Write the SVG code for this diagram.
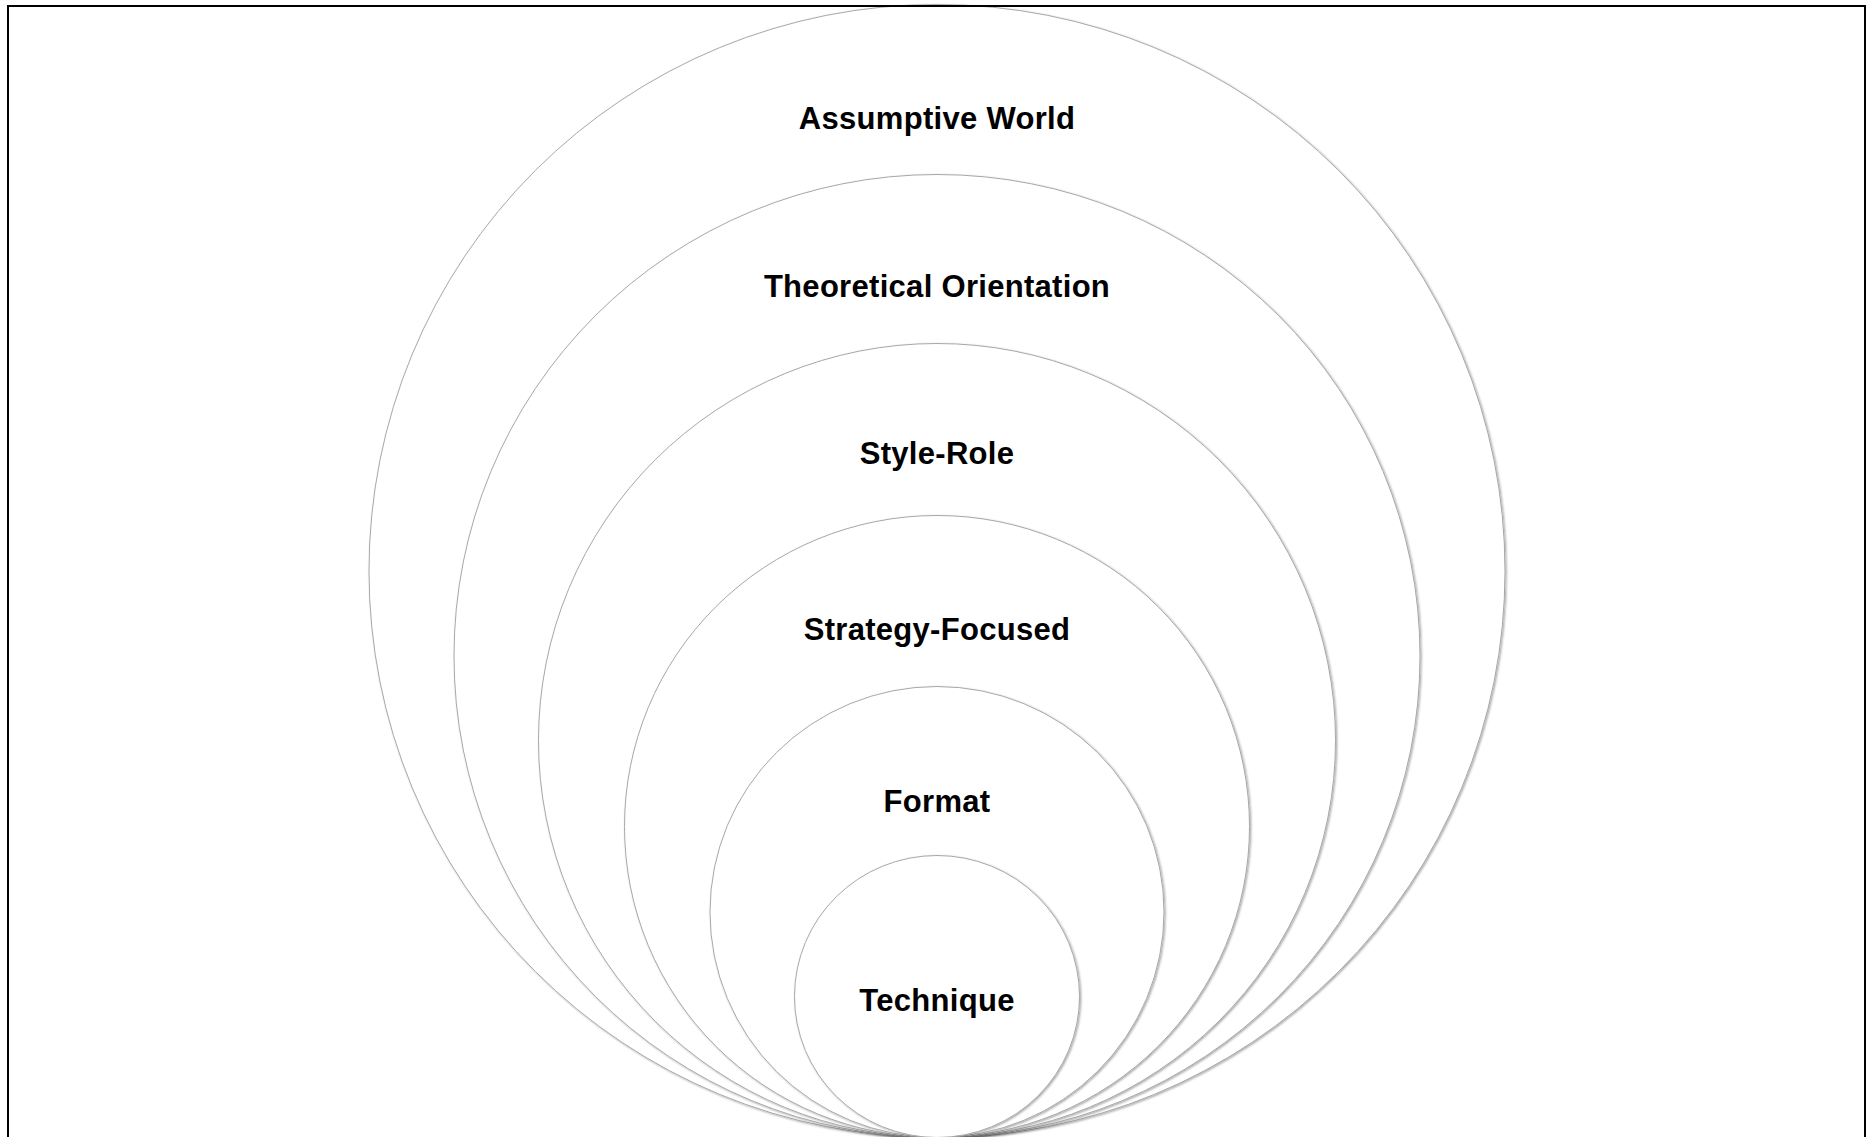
<svg xmlns="http://www.w3.org/2000/svg" width="1871" height="1137" viewBox="0 0 1871 1137">
  <defs>
    <filter id="sh" x="-10%" y="-10%" width="120%" height="120%">
      <feDropShadow dx="1.2" dy="1" stdDeviation="0.9" flood-color="#000" flood-opacity="0.35"/>
    </filter>
    <style>
      .ring { fill: #ffffff; stroke: #a8a8a8; stroke-width: 1; filter: url(#sh); }
      .lbl { font-family: "Liberation Sans", Arial, sans-serif; font-weight: bold; font-size: 31px; letter-spacing: 0.3px; fill: #000; text-anchor: middle; }
    </style>
  </defs>
  <rect width="1871" height="1137" fill="#ffffff"/>
  <g id="assumptive-world">
    <ellipse class="ring" cx="937" cy="571" rx="568" ry="566.5"/>
    <text class="lbl" x="937" y="128.5">Assumptive World</text>
  </g>
  <g id="theoretical-orientation">
    <ellipse class="ring" cx="937" cy="656" rx="483" ry="481.5"/>
    <text class="lbl" x="937" y="297">Theoretical Orientation</text>
  </g>
  <g id="style-role">
    <ellipse class="ring" cx="937" cy="740.5" rx="398.5" ry="397"/>
    <text class="lbl" x="937" y="463.5">Style-Role</text>
  </g>
  <g id="strategy-focused">
    <ellipse class="ring" cx="937" cy="826.5" rx="312.5" ry="311"/>
    <text class="lbl" x="937" y="639.5">Strategy-Focused</text>
  </g>
  <g id="format">
    <ellipse class="ring" cx="937" cy="912" rx="227" ry="225.5"/>
    <text class="lbl" x="937" y="811.5">Format</text>
  </g>
  <g id="technique">
    <ellipse class="ring" cx="937" cy="996.5" rx="142.5" ry="141"/>
    <text class="lbl" x="937" y="1011">Technique</text>
  </g>
  <g id="connectors"></g>
  <path d="M8,1140 V6 H1865 V1140" fill="none" stroke="#000" stroke-width="2"/>
</svg>
